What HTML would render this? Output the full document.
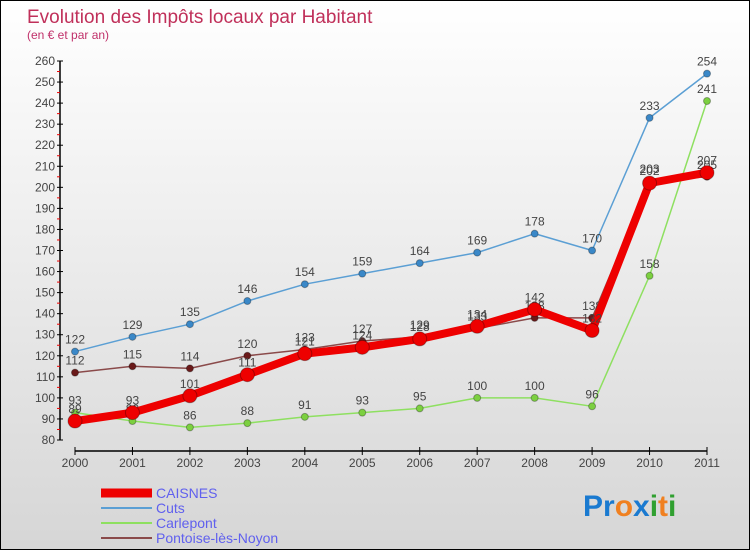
<!DOCTYPE html>
<html><head><meta charset="utf-8"><style>
body{margin:0;width:750px;height:550px;overflow:hidden;font-family:"Liberation Sans",sans-serif}
#wrap{position:relative;width:748px;height:548px;border:1px solid #000;background:linear-gradient(#fff,#d6d6d6)}
</style></head><body>
<div id="wrap">
<svg id="chart" width="748" height="548" font-family="Liberation Sans, sans-serif">
<text x="26" y="22" font-size="19" fill="#c0305a">Evolution des Impôts locaux par Habitant</text>
<text x="26" y="38" font-size="12" fill="#c0306a">(en € et par an)</text>
<g id="axes"></g><g id="series"></g><g id="legend"></g>
<text x="582" y="515" font-size="30" font-weight="bold"><tspan fill="#1a7ad0">Pr</tspan><tspan fill="#f08020">o</tspan><tspan fill="#1a7ad0">x</tspan><tspan fill="#30a030">i</tspan><tspan fill="#f08020">t</tspan><tspan fill="#30a030">i</tspan></text>
</svg></div>
<script>
const years=[2000,2001,2002,2003,2004,2005,2006,2007,2008,2009,2010,2011];
const caisnes=[89,93,101,111,121,124,128,134,142,132,202,207];
const cuts=[122,129,135,146,154,159,164,169,178,170,233,254];
const carlepont=[93,89,86,88,91,93,95,100,100,96,158,241];
const pontoise=[112,115,114,120,123,127,129,133,138,138,203,205];
const yTicks=[80,90,100,110,120,130,140,150,160,170,180,190,200,210,220,230,240,250,260];
const NS="http://www.w3.org/2000/svg";
const X=i=>74+i*(632/11), Y=v=>439-(v-80)*(379/180);
function mk(t,a,p){const e=document.createElementNS(NS,t);for(const k in a)e.setAttribute(k,a[k]);p.appendChild(e);return e;}
const ax=document.getElementById('axes');
const ya=mk('line',{x1:59,y1:Y(260),x2:59,y2:Y(80),stroke:'#000','stroke-width':1.5},ax);

yTicks.forEach(v=>{
 mk('line',{x1:56,y1:Y(v),x2:62,y2:Y(v),stroke:'#000'},ax);
 if(v<260)mk('line',{x1:56,y1:Y(v+5),x2:59,y2:Y(v+5),stroke:'#e00'},ax);
 const t=mk('text',{x:54,y:Y(v)+4,'font-size':12,fill:'#444','text-anchor':'end'},ax);t.textContent=v;
 
});
const xa=mk('line',{x1:X(0),y1:450,x2:X(11),y2:450,stroke:'#000','stroke-width':1.5},ax);

years.forEach((y,i)=>{
 mk('line',{x1:X(i),y1:446,x2:X(i),y2:454,stroke:'#000'},ax);
 const t=mk('text',{x:X(i),y:466,'font-size':12,fill:'#444','text-anchor':'middle'},ax);t.textContent=y;
 
});
const sg=document.getElementById('series');
const defs=[
 {n:'cuts',d:cuts,c:'#5b9fd4',w:1.5,r:3.5,f:'#3a88c8'},
 {n:'carlepont',d:carlepont,c:'#8ee060',w:1.5,r:3.5,f:'#7cd040'},
 {n:'pontoise',d:pontoise,c:'#8a4a4a',w:1.5,r:3.5,f:'#6a1a1a'},
 {n:'caisnes',d:caisnes,c:'#ee0000',w:8,r:7,f:'#ee0000'}];
defs.forEach(s=>{
 const g=mk('g',{},sg);
 
 const l=mk('polyline',{points:s.d.map((v,i)=>X(i)+','+Y(v)).join(' '),fill:'none',stroke:s.c,'stroke-width':s.w,'stroke-linejoin':'round'},g);
 
 s.d.forEach((v,i)=>{
  const c=mk('circle',{cx:X(i),cy:Y(v),r:s.r,fill:s.f,stroke:'rgba(0,0,0,0.3)'},g);
  
  const t=mk('text',{x:X(i),y:Y(v)-8,'font-size':12,fill:'#444','text-anchor':'middle'},g);t.textContent=v;
  
 });
});
const lg=document.getElementById('legend');
const leg=[['CAISNES','#ee0000',9],['Cuts','#5b9fd4',2],['Carlepont','#8ee060',2],['Pontoise-lès-Noyon','#8a4a4a',2]];
leg.forEach((e,i)=>{
 const y=492+i*15;
 const g=mk('g',{},lg);
 
 mk('line',{x1:100,y1:y,x2:151,y2:y,stroke:e[1],'stroke-width':e[2]},g);
 const t=mk('text',{x:155,y:y+5,'font-size':14,fill:'#6060ee'},g);t.textContent=e[0];
});
</script>
</body></html>
